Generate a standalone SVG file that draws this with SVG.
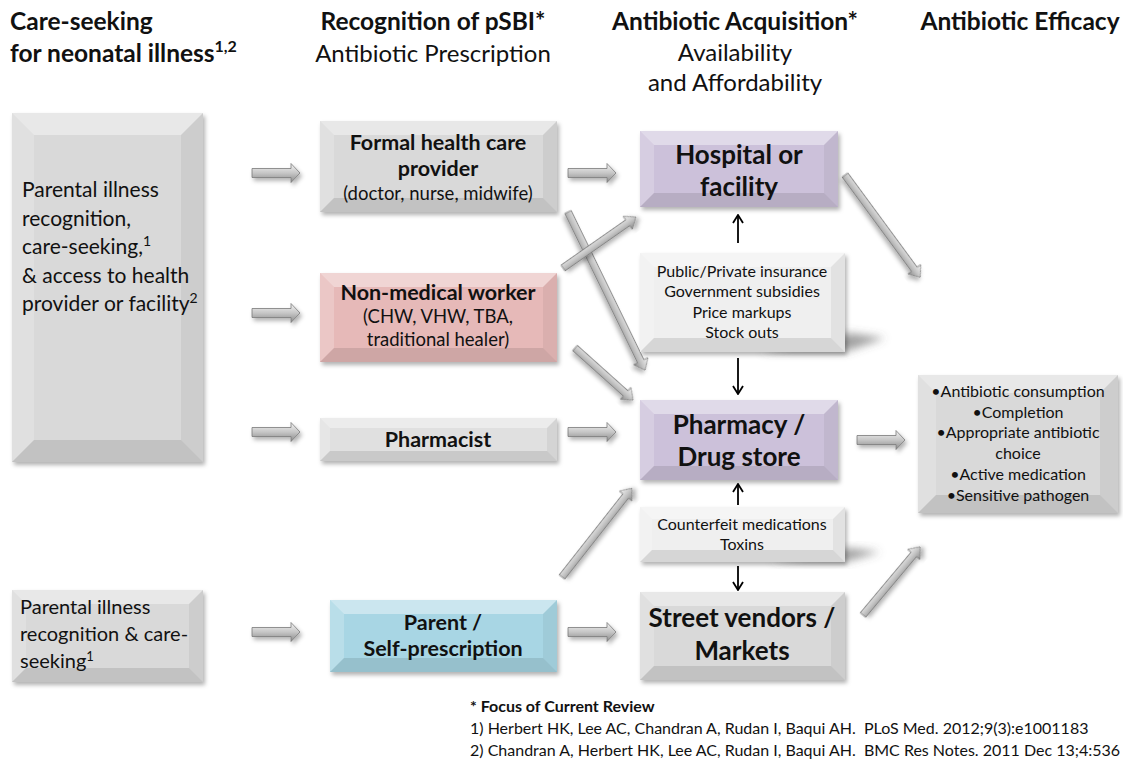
<svg xmlns="http://www.w3.org/2000/svg" width="1123" height="767" viewBox="0 0 1123 767">
<defs>
<filter id="sh" x="-10%" y="-10%" width="130%" height="140%"><feDropShadow dx="2" dy="3" stdDeviation="2" flood-color="#000" flood-opacity="0.3"/></filter>
<filter id="blur" x="-50%" y="-50%" width="200%" height="200%"><feGaussianBlur stdDeviation="4"/></filter>
<linearGradient id="ag" x1="0" y1="0" x2="0" y2="1"><stop offset="0" stop-color="#f4f4f4"/><stop offset="0.5" stop-color="#c6c6c6"/><stop offset="1" stop-color="#8a8a8a"/></linearGradient>
<path id="harrow" d="M0,-4.5 H39 V-9.5 L48,0 L39,9.5 V4.5 H0 Z"/>
<marker id="open" viewBox="0 0 10 12" refX="9" refY="6" markerWidth="10" markerHeight="12" markerUnits="userSpaceOnUse" orient="auto"><path d="M1,1 L9,6 L1,11" fill="none" stroke="#000" stroke-width="1.8"/></marker>
<style>
text{font-family:Lato,"Liberation Sans",sans-serif;fill:#111}
.h{font-size:24.5px;font-weight:bold}
.hr{font-size:24px}
.lt{font-size:21px}
.lt2{font-size:20px}
.b{font-size:21.5px;font-weight:bold}
.s{font-size:18.5px}
.big{font-size:26px;font-weight:bold}
.m{font-size:16px}
.fn{font-size:16px}
.c{text-anchor:middle}
.box{filter:url(#sh)}
.bt{fill:#fff;fill-opacity:0.4}
.bl{fill:#fff;fill-opacity:0.2}
.br{fill:#000;fill-opacity:0.05}
.bb{fill:#000;fill-opacity:0.1}
.psh{fill:#555;fill-opacity:0.55;filter:url(#blur)}
.arr{fill:url(#ag);stroke:#7a7a7a;stroke-width:0.8;filter:url(#sh)}
.thin{stroke:#000;stroke-width:1.8;fill:none;marker-end:url(#open)}
</style>
</defs>
<rect width="1123" height="767" fill="#fff"/>

<g id="headers">
<text class="h" x="10" y="30">Care-seeking</text>
<text class="h" x="10" y="62">for neonatal illness<tspan font-size="16" dy="-10">1,2</tspan></text>
<text class="h c" x="433" y="30">Recognition of pSBI*</text>
<text class="hr c" x="433" y="62">Antibiotic Prescription</text>
<text class="h c" x="735" y="30">Antibiotic Acquisition*</text>
<text class="hr c" x="735" y="61">Availability</text>
<text class="hr c" x="735" y="91">and Affordability</text>
<text class="h c" x="1020" y="30">Antibiotic Efficacy</text>
</g>

<g id="connectors">
<use href="#harrow" x="252" y="173" class="arr"/>
<use href="#harrow" x="252" y="313" class="arr"/>
<use href="#harrow" x="252" y="432" class="arr"/>
<use href="#harrow" x="252" y="632" class="arr"/>
<use href="#harrow" x="568" y="173" class="arr"/>
<use href="#harrow" x="568" y="432" class="arr"/>
<use href="#harrow" x="568" y="632" class="arr"/>
<use href="#harrow" x="857" y="440" class="arr"/>
<path class="arr" transform="translate(568 212) rotate(64.02)" d="M0,-3.5 H166 V-8 L176,0 L166,8 V3.5 H0 Z"/>
<path class="arr" transform="translate(563 268) rotate(-34.94)" d="M0,-3.5 H79 V-8 L89,0 L79,8 V3.5 H0 Z"/>
<path class="arr" transform="translate(575 348) rotate(41.88)" d="M0,-3.5 H68 V-8 L78,0 L68,8 V3.5 H0 Z"/>
<path class="arr" transform="translate(562 577) rotate(-51.81)" d="M0,-3.5 H103 V-8 L113,0 L103,8 V3.5 H0 Z"/>
<path class="arr" transform="translate(845 175) rotate(53.67)" d="M0,-3.5 H117 V-8 L127,0 L117,8 V3.5 H0 Z"/>
<path class="arr" transform="translate(863 615) rotate(-50.03)" d="M0,-3.5 H79 V-8 L89,0 L79,8 V3.5 H0 Z"/>
<line class="thin" x1="738" y1="243" x2="738" y2="215"/>
<line class="thin" x1="738" y1="358" x2="738" y2="394"/>
<line class="thin" x1="738" y1="505" x2="738" y2="484"/>
<line class="thin" x1="738" y1="566" x2="738" y2="590"/>
</g>

<g id="care-seeking">
<rect class="box" x="12" y="113" width="191" height="349" fill="#d9d9d9"/>
<polygon class="bt" points="12,113 203,113 181,135 34,135"/>
<polygon class="bl" points="12,113 34,135 34,440 12,462"/>
<polygon class="br" points="203,113 203,462 181,440 181,135"/>
<polygon class="bb" points="12,462 34,440 181,440 203,462"/>
<text class="lt" x="22" y="197">Parental illness</text>
<text class="lt" x="22" y="226">recognition,</text>
<text class="lt" x="22" y="254">care-seeking,<tspan font-size="14" dy="-8">1</tspan></text>
<text class="lt" x="22" y="283">&amp; access to health</text>
<text class="lt" x="22" y="311">provider or facility<tspan font-size="14" dy="-8">2</tspan></text>
</g>

<g id="formal">
<rect class="box" x="320" y="121" width="237" height="91" fill="#d9d9d9"/>
<polygon class="bt" points="320,121 557,121 543,135 334,135"/>
<polygon class="bl" points="320,121 334,135 334,198 320,212"/>
<polygon class="br" points="557,121 557,212 543,198 543,135"/>
<polygon class="bb" points="320,212 334,198 543,198 557,212"/>
<text class="b c" x="438" y="150">Formal health care</text>
<text class="b c" x="438" y="176">provider</text>
<text class="s c" x="438" y="200">(doctor, nurse, midwife)</text>
</g>

<g id="nonmedical">
<rect class="box" x="320" y="273" width="237" height="89" fill="#e6b9b8"/>
<polygon class="bt" points="320,273 557,273 543,287 334,287"/>
<polygon class="bl" points="320,273 334,287 334,348 320,362"/>
<polygon class="br" points="557,273 557,362 543,348 543,287"/>
<polygon class="bb" points="320,362 334,348 543,348 557,362"/>
<text class="b c" x="438" y="300">Non-medical worker</text>
<text class="s c" x="438" y="323">(CHW, VHW, TBA,</text>
<text class="s c" x="438" y="346">traditional healer)</text>
</g>

<g id="pharmacist">
<rect class="box" x="320" y="418" width="237" height="43" fill="#e0e0e0"/>
<polygon class="bt" points="320,418 557,418 547,428 330,428"/>
<polygon class="bl" points="320,418 330,428 330,451 320,461"/>
<polygon class="br" points="557,418 557,461 547,451 547,428"/>
<polygon class="bb" points="320,461 330,451 547,451 557,461"/>
<text class="b c" x="438" y="447">Pharmacist</text>
</g>

<g id="care-seeking-2">
<rect class="box" x="12" y="590" width="191" height="92" fill="#d9d9d9"/>
<polygon class="bt" points="12,590 203,590 189,604 26,604"/>
<polygon class="bl" points="12,590 26,604 26,668 12,682"/>
<polygon class="br" points="203,590 203,682 189,668 189,604"/>
<polygon class="bb" points="12,682 26,668 189,668 203,682"/>
<text class="lt2" x="20" y="614">Parental illness</text>
<text class="lt2" x="20" y="641">recognition &amp; care-</text>
<text class="lt2" x="20" y="668">seeking<tspan font-size="13" dy="-7">1</tspan></text>
</g>

<g id="parent">
<rect class="box" x="330" y="600" width="227" height="72" fill="#a8d6e4"/>
<polygon class="bt" points="330,600 557,600 543,614 344,614"/>
<polygon class="bl" points="330,600 344,614 344,658 330,672"/>
<polygon class="br" points="557,600 557,672 543,658 543,614"/>
<polygon class="bb" points="330,672 344,658 543,658 557,672"/>
<text class="b c" x="443" y="630">Parent /</text>
<text class="b c" x="443" y="656">Self-prescription</text>
</g>

<g id="hospital">
<rect class="box" x="640" y="131" width="198" height="76" fill="#ccc1da"/>
<polygon class="bt" points="640,131 838,131 824,145 654,145"/>
<polygon class="bl" points="640,131 654,145 654,193 640,207"/>
<polygon class="br" points="838,131 838,207 824,193 824,145"/>
<polygon class="bb" points="640,207 654,193 824,193 838,207"/>
<text class="big c" x="739" y="164">Hospital or</text>
<text class="big c" x="739" y="196">facility</text>
</g>

<g id="cost-factors">
<polygon class="psh" points="760,352 845,352 885,338 850,333"/>
<rect class="box" x="640" y="253" width="205" height="99" fill="#efefef"/>
<polygon class="bt" points="640,253 845,253 831,267 654,267"/>
<polygon class="bl" points="640,253 654,267 654,338 640,352"/>
<polygon class="br" points="845,253 845,352 831,338 831,267"/>
<polygon class="bb" points="640,352 654,338 831,338 845,352"/>
<text class="m c" x="742" y="277">Public/Private insurance</text>
<text class="m c" x="742" y="297">Government subsidies</text>
<text class="m c" x="742" y="318">Price markups</text>
<text class="m c" x="742" y="338">Stock outs</text>
</g>

<g id="pharmacy">
<rect class="box" x="640" y="400" width="198" height="80" fill="#ccc1da"/>
<polygon class="bt" points="640,400 838,400 824,414 654,414"/>
<polygon class="bl" points="640,400 654,414 654,466 640,480"/>
<polygon class="br" points="838,400 838,480 824,466 824,414"/>
<polygon class="bb" points="640,480 654,466 824,466 838,480"/>
<text class="big c" x="739" y="434">Pharmacy /</text>
<text class="big c" x="739" y="466">Drug store</text>
</g>

<g id="quality-factors">
<polygon class="psh" points="770,562 845,562 880,552 850,548"/>
<rect class="box" x="640" y="507" width="205" height="55" fill="#efefef"/>
<polygon class="bt" points="640,507 845,507 833,519 652,519"/>
<polygon class="bl" points="640,507 652,519 652,550 640,562"/>
<polygon class="br" points="845,507 845,562 833,550 833,519"/>
<polygon class="bb" points="640,562 652,550 833,550 845,562"/>
<text class="m c" x="742" y="530">Counterfeit medications</text>
<text class="m c" x="742" y="550">Toxins</text>
</g>

<g id="street">
<rect class="box" x="640" y="592" width="205" height="88" fill="#d9d9d9"/>
<polygon class="bt" points="640,592 845,592 831,606 654,606"/>
<polygon class="bl" points="640,592 654,606 654,666 640,680"/>
<polygon class="br" points="845,592 845,680 831,666 831,606"/>
<polygon class="bb" points="640,680 654,666 831,666 845,680"/>
<text class="big c" x="742" y="627">Street vendors /</text>
<text class="big c" x="742" y="660">Markets</text>
</g>

<g id="efficacy">
<rect class="box" x="918" y="375" width="200" height="138" fill="#d9d9d9"/>
<polygon class="bt" points="918,375 1118,375 1100,393 936,393"/>
<polygon class="bl" points="918,375 936,393 936,495 918,513"/>
<polygon class="br" points="1118,375 1118,513 1100,495 1100,393"/>
<polygon class="bb" points="918,513 936,495 1100,495 1118,513"/>
<text class="m c" x="1018" y="397">•Antibiotic consumption</text>
<text class="m c" x="1018" y="418">•Completion</text>
<text class="m c" x="1018" y="438">•Appropriate antibiotic</text>
<text class="m c" x="1018" y="459">choice</text>
<text class="m c" x="1018" y="480">•Active medication</text>
<text class="m c" x="1018" y="501">•Sensitive pathogen</text>
</g>

<g id="footnotes">
<text class="fn" x="470" y="712" font-weight="bold">* Focus of Current Review</text>
<text class="fn" x="470" y="734">1) Herbert HK, Lee AC, Chandran A, Rudan I, Baqui AH.&#160; PLoS Med. 2012;9(3):e1001183</text>
<text class="fn" x="470" y="756">2) Chandran A, Herbert HK, Lee AC, Rudan I, Baqui AH.&#160; BMC Res Notes. 2011 Dec 13;4:536</text>
</g>
</svg>
